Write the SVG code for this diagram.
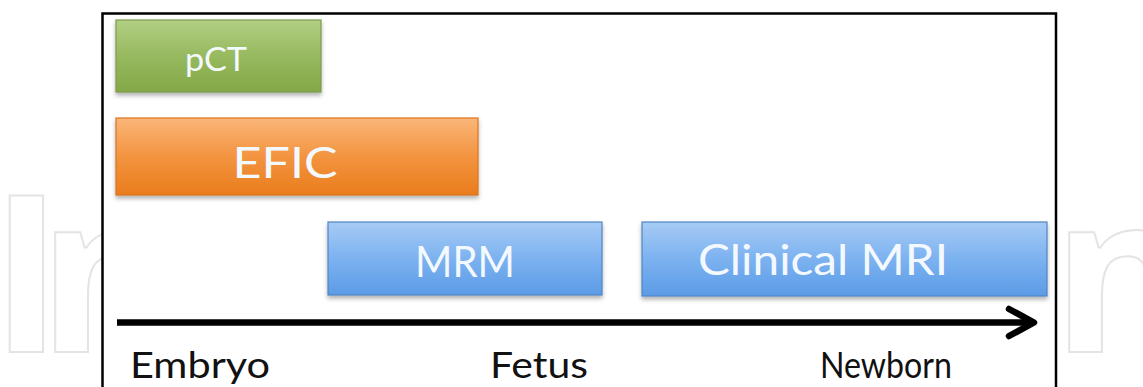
<svg xmlns="http://www.w3.org/2000/svg" width="1143" height="387" viewBox="0 0 1143 387">
  <style>
    .wm { font-family: "Open Sans", "DejaVu Sans", sans-serif; font-weight: 700; font-size: 220px; fill: none; stroke: #e4e4e4; stroke-width: 2; }
    .box-text { font-family: Lato, "Open Sans", "Liberation Sans", sans-serif; fill: #f4f9ff; text-anchor: middle; }
    .axis-label { font-family: Lato, "Open Sans", "Liberation Sans", sans-serif; font-size: 36px; fill: #111; }
    .box-border { stroke-width: 1.2; }
  </style>
  <defs>
    <linearGradient id="gGreen" x1="0" y1="0" x2="0" y2="1">
      <stop offset="0" stop-color="#b2cf84"/>
      <stop offset="0.5" stop-color="#97b95f"/>
      <stop offset="1" stop-color="#84a748"/>
    </linearGradient>
    <linearGradient id="gOrange" x1="0" y1="0" x2="0" y2="1">
      <stop offset="0" stop-color="#fab679"/>
      <stop offset="0.5" stop-color="#f39440"/>
      <stop offset="1" stop-color="#ea7c1c"/>
    </linearGradient>
    <linearGradient id="gBlue" x1="0" y1="0" x2="0" y2="1">
      <stop offset="0" stop-color="#a7cbf5"/>
      <stop offset="0.5" stop-color="#7cb2f0"/>
      <stop offset="1" stop-color="#5c9be6"/>
    </linearGradient>
    <filter id="shadow" x="-5%" y="-10%" width="110%" height="130%">
      <feDropShadow dx="0" dy="3" stdDeviation="2" flood-color="#000" flood-opacity="0.3"/>
    </filter>
  </defs>

  <rect width="1143" height="387" fill="#ffffff"/>

  <!-- faint watermark, visible only outside the frame -->
  <text class="wm" x="-10 38" y="352">In</text>
  <text class="wm" x="1052" y="352">n</text>

  <!-- frame -->
  <rect x="102.5" y="13.5" width="953.5" height="400" fill="#ffffff" stroke="#000" stroke-width="2.5"/>

  <g id="node-pct">
    <rect x="116" y="20" width="205" height="72" fill="url(#gGreen)" stroke="#7c9b4c" class="box-border" filter="url(#shadow)"/>
    <text class="box-text" x="216" y="71" font-size="33" textLength="62" lengthAdjust="spacingAndGlyphs">pCT</text>
  </g>

  <g id="node-efic">
    <rect x="116" y="118" width="362" height="77" fill="url(#gOrange)" stroke="#d9741e" class="box-border" filter="url(#shadow)"/>
    <text class="box-text" x="285" y="178" font-size="42" textLength="105" lengthAdjust="spacingAndGlyphs">EFIC</text>
  </g>

  <g id="node-mrm">
    <rect x="328" y="222" width="274" height="73" fill="url(#gBlue)" stroke="#4f86c4" class="box-border" filter="url(#shadow)"/>
    <text class="box-text" x="465" y="277" font-size="42" textLength="100" lengthAdjust="spacingAndGlyphs">MRM</text>
  </g>

  <g id="node-clinical-mri">
    <rect x="642" y="222" width="405" height="74" fill="url(#gBlue)" stroke="#4f86c4" class="box-border" filter="url(#shadow)"/>
    <text class="box-text" x="823" y="275" font-size="42" textLength="250" lengthAdjust="spacingAndGlyphs">Clinical MRI</text>
  </g>

  <g id="connectors">
    <line x1="117" y1="322.5" x2="1032" y2="322.5" stroke="#000" stroke-width="6.5"/>
    <polyline points="1009,309 1034,322.5 1009,336" fill="none" stroke="#000" stroke-width="6.5" stroke-linecap="round" stroke-linejoin="round"/>
  </g>

  <g id="labels">
    <text class="axis-label" x="130" y="378" textLength="140" lengthAdjust="spacingAndGlyphs">Embryo</text>
    <text class="axis-label" x="490" y="378" textLength="98" lengthAdjust="spacingAndGlyphs">Fetus</text>
    <text class="axis-label" x="820" y="378" font-size="33" textLength="132" lengthAdjust="spacingAndGlyphs">Newborn</text>
  </g>
</svg>
